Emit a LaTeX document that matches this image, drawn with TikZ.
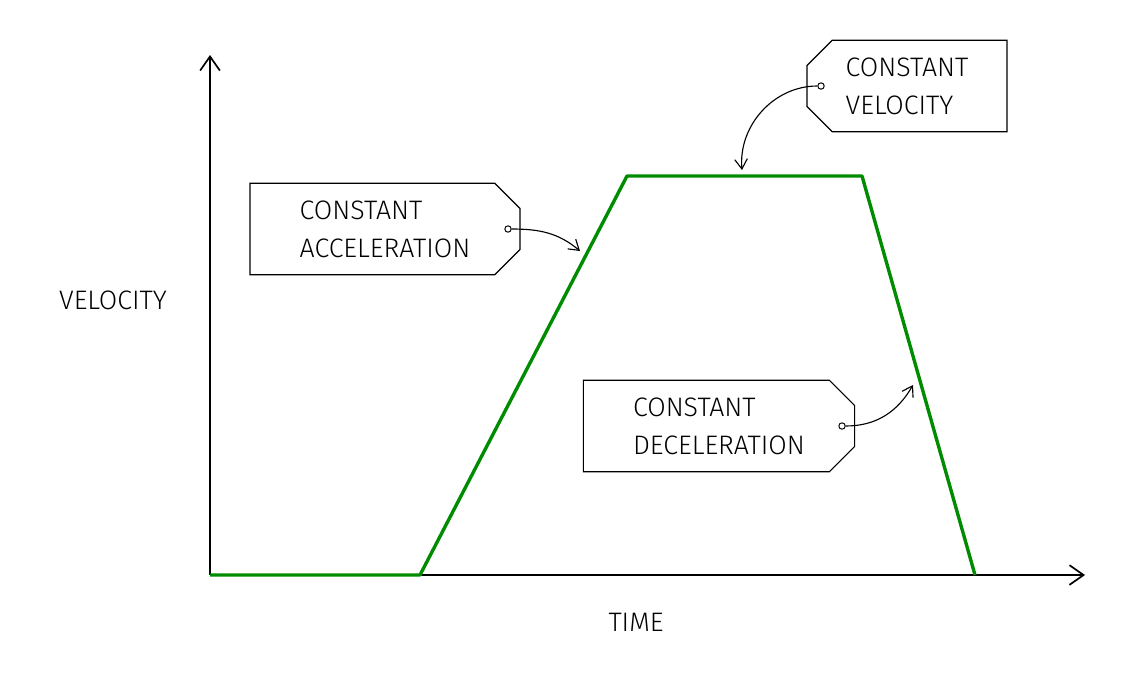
\documentclass[tikz,border=0pt]{standalone}
\usepackage{fontspec}
\setmainfont{Fira Sans Light}
\usetikzlibrary{shapes.misc,arrows.meta}
\begin{document}
\begin{tikzpicture}[x=0.025cm,y=-0.025cm,
  font=\fontsize{19}{27}\selectfont,
  TagStyle/.style = {chamfered rectangle, chamfered rectangle xsep=9pt,
    chamfered rectangle ysep=9pt, draw, line width=0.8pt, align=left,
    minimum height=2.25cm, inner xsep=14pt},
  PointStyle/.style = {-{Straight Barb[length=7pt,width=9pt]}, line width=0.8pt},
  AxisStyle/.style = {-{Straight Barb[length=10pt,width=14pt]}, line width=1.2pt}]

  \useasboundingbox (0,0) rectangle (1128,672);

  % axes
  \coordinate (o) at (210,575);
  \coordinate (ytop) at (210,55);
  \coordinate (xend) at (1085,575);
  \draw[AxisStyle] (o) -- (ytop);
  \draw[AxisStyle] (o) -- (xend);
  \node (vel) at (113,300) {VELOCITY};
  \node (time) at (636,622) {TIME};

  % velocity-time graph
  \coordinate (p1) at (420,575);
  \coordinate (p2) at (627,176);
  \coordinate (p3) at (862,176);
  \coordinate (p4) at (975,575);
  \draw[green!55!black, line width=2.4pt, line join=round]
    (o) -- (p1) -- (p2) -- (p3) -- (p4);

  % tags
  \node[TagStyle, chamfered rectangle corners={north east,south east},
    minimum width=6.75cm] (acc) at (385,229) {CONSTANT\\ACCELERATION};
  \node[TagStyle, chamfered rectangle corners={north west,south west},
    minimum width=5cm] (vel2) at (907,86) {CONSTANT\\VELOCITY};
  \node[TagStyle, chamfered rectangle corners={north east,south east},
    minimum width=6.78cm] (dec) at (719,426) {CONSTANT\\DECELERATION};

  \node[draw, circle, inner sep=1.6pt, line width=0.7pt] (h1) at (508,229) {};
  \node[draw, circle, inner sep=1.6pt, line width=0.7pt] (h2) at (821,86) {};
  \node[draw, circle, inner sep=1.6pt, line width=0.7pt] (h3) at (842,426) {};

  \coordinate (a1) at (580,251);
  \coordinate (a2) at (742,170);
  \coordinate (a3) at (913,385);
  \draw[PointStyle] (h1.east) to[out=0, in=140] (a1);
  \draw[PointStyle] (h2.west) to[out=180, in=95] (a2);
  \draw[PointStyle] (h3.east) to[out=0, in=240] (a3);

\end{tikzpicture}
\end{document}
